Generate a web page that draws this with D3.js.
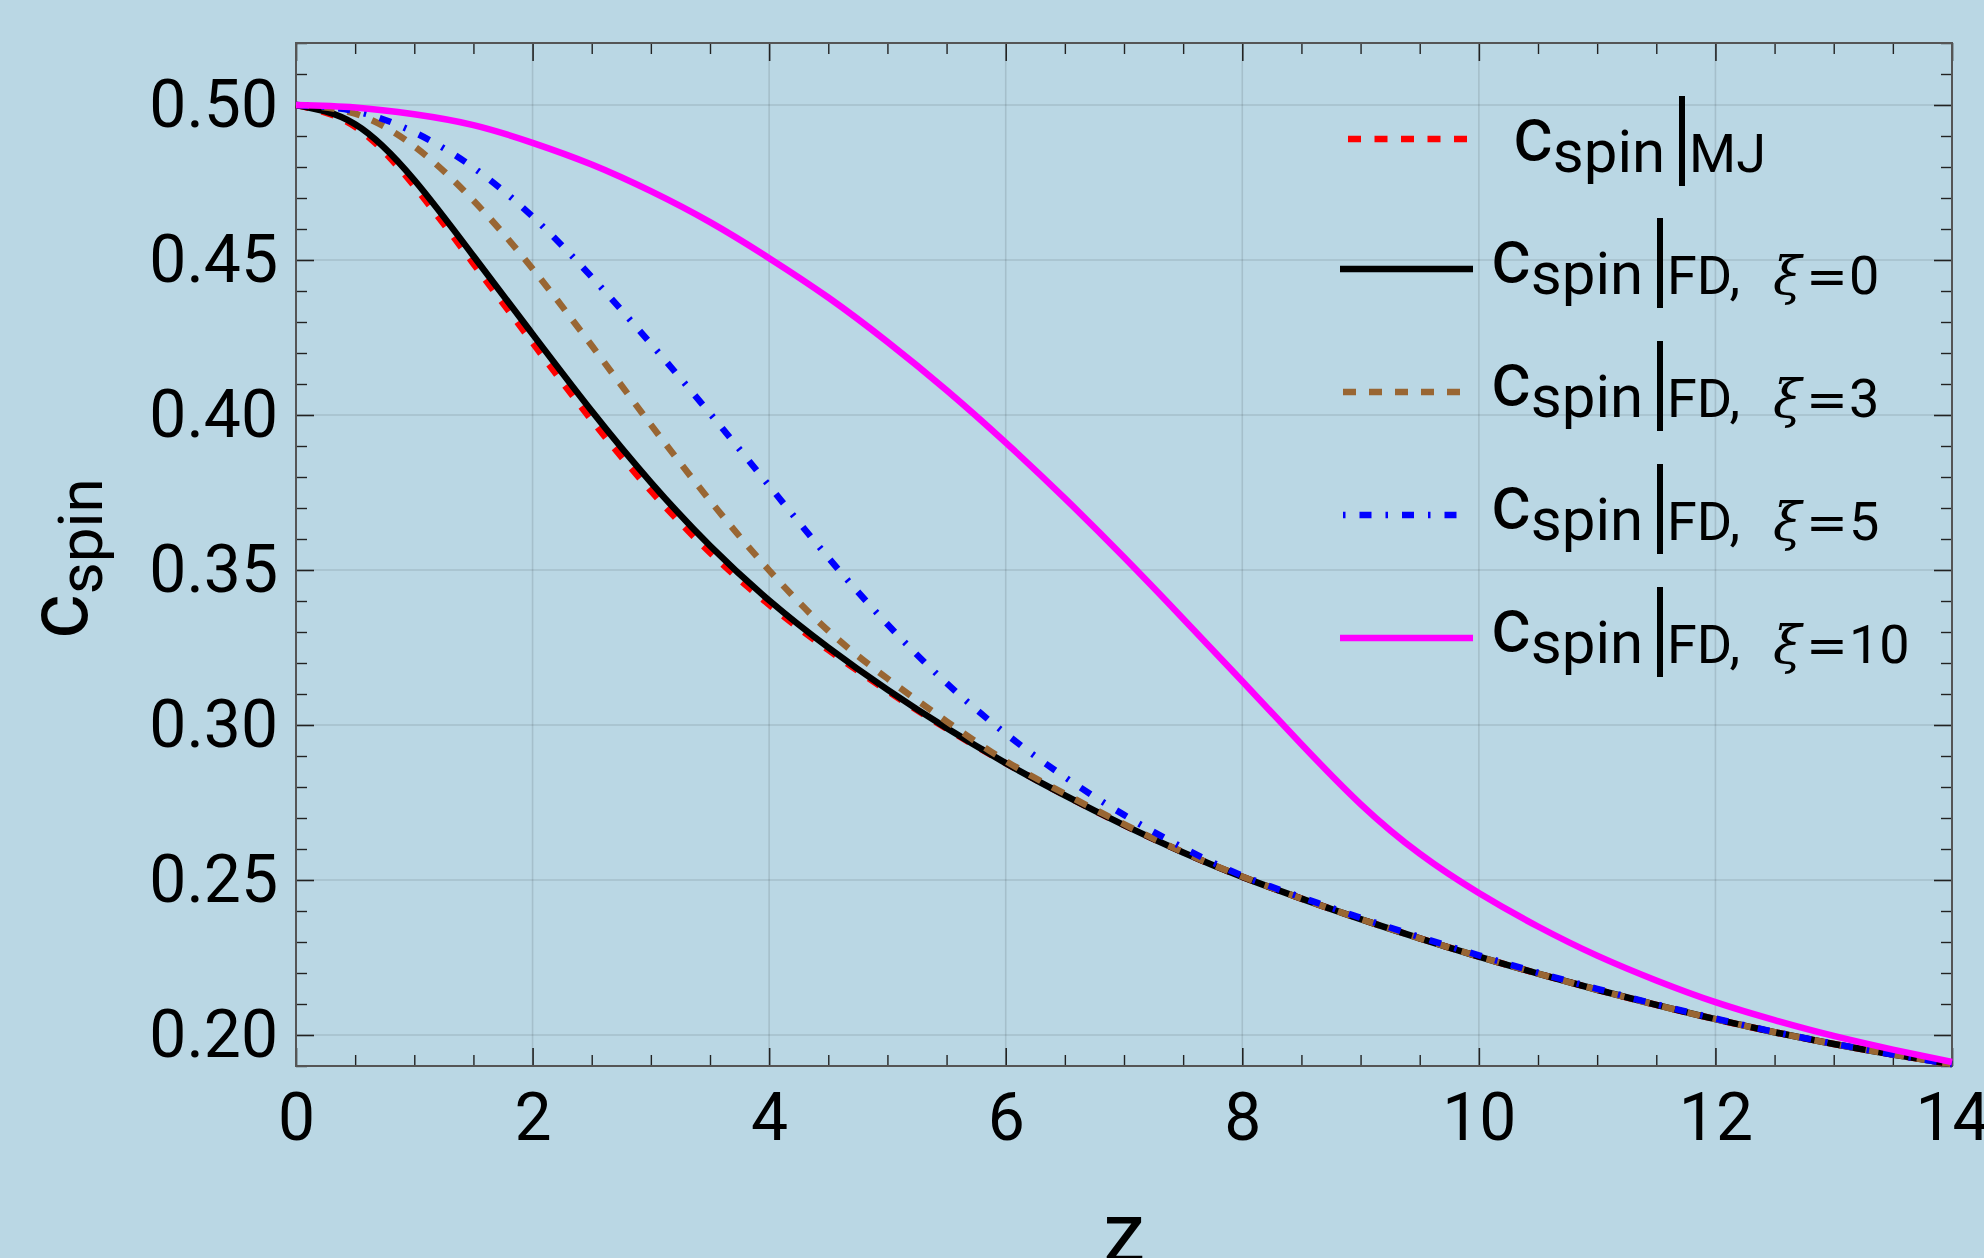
<!DOCTYPE html>
<html>
<head>
<meta charset="utf-8">
<script src="https://cdn.jsdelivr.net/npm/d3@7"></script>
<style>
  body { margin: 0; background: #bad7e4; }
  svg { display: block; }
  text { font-family: Roboto, "Liberation Sans", sans-serif; fill: #000; }
  .axis .domain { display: none; }
  .major line { stroke: #222; stroke-width: 1.6; }
  .minor line { stroke: #222; stroke-width: 1.4; }
  .grid line { stroke: #000; stroke-opacity: 0.11; stroke-width: 1.6; }
</style>
</head>
<body>
<div id="chart"></div>
<script>
// values, one every 0.5 in z
var zValues = [0, 0.5, 1, 1.5, 2, 2.5, 3, 3.5, 4, 4.5, 5, 5.5, 6, 6.5, 7,
  7.5, 8, 8.5, 9, 9.5, 10, 10.5, 11, 11.5, 12, 12.5, 13, 13.5, 14];

var cMJ = [0.5, 0.4930, 0.4738, 0.4488, 0.4233, 0.3983, 0.3755, 0.3556, 0.3388, 0.3242,
  0.3110, 0.2988, 0.2877, 0.2773, 0.2677, 0.2589, 0.2510, 0.2440, 0.2374, 0.2312,
  0.2253, 0.2198, 0.2146, 0.2097, 0.2051, 0.2009, 0.1971, 0.1937, 0.1906];

var cFD0 = [0.5, 0.4938, 0.4758, 0.4513, 0.4261, 0.4013, 0.3783, 0.3578, 0.3402, 0.3250,
  0.3114, 0.2990, 0.2877, 0.2773, 0.2677, 0.2589, 0.2510, 0.2440, 0.2374, 0.2312,
  0.2253, 0.2198, 0.2146, 0.2097, 0.2051, 0.2009, 0.1971, 0.1937, 0.1906];

var cFD3 = [0.5, 0.4972, 0.4867, 0.4692, 0.4472, 0.4224, 0.3969, 0.3724, 0.3499, 0.3304,
  0.3150, 0.3012, 0.2884, 0.2778, 0.2680, 0.2590, 0.2511, 0.2440, 0.2374, 0.2312,
  0.2253, 0.2198, 0.2146, 0.2097, 0.2051, 0.2009, 0.1971, 0.1937, 0.1906];

var cFD5 = [0.5, 0.4980, 0.4912, 0.4798, 0.4640, 0.4445, 0.4230, 0.4005, 0.3772, 0.3540,
  0.3325, 0.3135, 0.2972, 0.2832, 0.2710, 0.2604, 0.2514, 0.2444, 0.2378, 0.2316,
  0.2257, 0.2201, 0.2149, 0.2099, 0.2053, 0.2010, 0.1972, 0.1937, 0.1906];

var cFD10 = [0.5, 0.4992, 0.4970, 0.4935, 0.4878, 0.4808, 0.4722, 0.4622, 0.4506, 0.4379,
  0.4236, 0.4080, 0.3911, 0.3731, 0.3541, 0.3343, 0.3141, 0.2938, 0.2745, 0.2585,
  0.2458, 0.2350, 0.2256, 0.2176, 0.2106, 0.2048, 0.1997, 0.1953, 0.1913];

var xTicks = [0, 2, 4, 6, 8, 10, 12, 14];
var yTicks = [0.20, 0.25, 0.30, 0.35, 0.40, 0.45, 0.50];
var xDomain = [0, 14];
var yDomain = [0.19, 0.52];

var legendSub = ["MJ", "FD,", "FD,", "FD,", "FD,"];
var legendXi = [null, "0", "3", "5", "10"];

var series = [
  {values: cMJ,   color: "#ff0000", dash: "13,13.5"},
  {values: cFD0,  color: "#000000", dash: null},
  {values: cFD3,  color: "#996633", dash: "13,13"},
  {values: cFD5,  color: "#0000ff", dash: "12,14,2.5,14"},
  {values: cFD10, color: "#ff00ff", dash: null}
];

var W = 1984, H = 1258;
var margin = {top: 43, right: 32, bottom: 192, left: 296};
var width = W - margin.left - margin.right,
    height = H - margin.top - margin.bottom;

var svg = d3.select("#chart").append("svg")
    .attr("width", W)
    .attr("height", H);

svg.append("rect").attr("width", W).attr("height", H).attr("fill", "#bad7e4");

var g = svg.append("g").attr("transform", "translate(" + margin.left + "," + margin.top + ")");

var x = d3.scaleLinear().domain(xDomain).range([0, width]);
var y = d3.scaleLinear().domain(yDomain).range([height, 0]);

// grid
var grid = g.append("g").attr("class", "grid");
grid.selectAll(".gx").data(xTicks.slice(1, -1)).enter().append("line")
    .attr("x1", d => x(d)).attr("x2", d => x(d)).attr("y1", 0).attr("y2", height);
grid.selectAll(".gy").data(yTicks).enter().append("line")
    .attr("y1", d => y(d)).attr("y2", d => y(d)).attr("x1", 0).attr("x2", width);

var xMinor = d3.range(0, 14.01, 0.5).filter(d => xTicks.indexOf(d) < 0);
var yMinor = d3.range(19, 52.01, 1).map(d => d / 100).filter(d => !yTicks.some(t => Math.abs(t - d) < 1e-6));

// bottom
g.append("g").attr("class", "axis minor").attr("transform", "translate(0," + height + ")")
    .call(d3.axisBottom(x).tickValues(xMinor).tickSize(-11).tickSizeOuter(0).tickFormat(""));
g.append("g").attr("class", "axis major").attr("transform", "translate(0," + height + ")")
    .call(d3.axisBottom(x).tickValues(xTicks).tickSize(-18).tickSizeOuter(0).tickPadding(27).tickFormat(d3.format("d")));
// top
g.append("g").attr("class", "axis minor")
    .call(d3.axisTop(x).tickValues(xMinor).tickSize(-11).tickSizeOuter(0).tickFormat(""));
g.append("g").attr("class", "axis major")
    .call(d3.axisTop(x).tickValues(xTicks).tickSize(-18).tickSizeOuter(0).tickFormat(""));
// left
g.append("g").attr("class", "axis minor")
    .call(d3.axisLeft(y).tickValues(yMinor).tickSize(-11).tickSizeOuter(0).tickFormat(""));
g.append("g").attr("class", "axis major")
    .call(d3.axisLeft(y).tickValues(yTicks).tickSize(-18).tickSizeOuter(0).tickPadding(18).tickFormat(d3.format(".2f")));
// right
g.append("g").attr("class", "axis minor").attr("transform", "translate(" + width + ",0)")
    .call(d3.axisRight(y).tickValues(yMinor).tickSize(-11).tickSizeOuter(0).tickFormat(""));
g.append("g").attr("class", "axis major").attr("transform", "translate(" + width + ",0)")
    .call(d3.axisRight(y).tickValues(yTicks).tickSize(-18).tickSizeOuter(0).tickFormat(""));

g.selectAll(".axis text")
    .attr("font-size", 66)
    .attr("font-family", "Roboto, sans-serif");

// frame
g.append("rect")
    .attr("width", width).attr("height", height)
    .attr("fill", "none").attr("stroke", "#555").attr("stroke-width", 2);

// curves
var line = d3.line()
    .x((d, i) => x(zValues[i]))
    .y(d => y(d))
    .curve(d3.curveNatural);

g.append("g").attr("class", "curves")
  .selectAll("path")
  .data(series)
  .enter().append("path")
    .attr("d", d => line(d.values))
    .attr("fill", "none")
    .attr("stroke", d => d.color)
    .attr("stroke-width", 6.5)
    .attr("stroke-dasharray", d => d.dash);

// axis labels
svg.append("text")
    .attr("x", margin.left + width / 2)
    .attr("y", 1262)
    .attr("text-anchor", "middle")
    .attr("font-size", 85)
    .text("z");

var ylab = svg.append("text")
    .attr("transform", "translate(87," + (margin.top + height / 2 + 4) + ") rotate(-90)")
    .attr("text-anchor", "middle");
ylab.append("tspan").attr("font-size", 85).text("c");
ylab.append("tspan").attr("font-size", 62).attr("dy", 15).text("spin");

// legend
var legendRows = [
  {lineY: 139, base: 160, textX: 1513, barX: 1682, x1: 1348, x2: 1467},
  {lineY: 269, base: 282, textX: 1491, barX: 1660, x1: 1340, x2: 1473},
  {lineY: 392, base: 405, textX: 1491, barX: 1660, x1: 1343, x2: 1462},
  {lineY: 515, base: 528, textX: 1491, barX: 1660, x1: 1343, x2: 1462},
  {lineY: 638, base: 651, textX: 1491, barX: 1660, x1: 1340, x2: 1473}
];

var legend = svg.append("g").attr("class", "legend");
series.forEach(function(s, i) {
  var r = legendRows[i];
  var dash = s.dash;
  if (i === 3) dash = "2.5,14,12,14";
  legend.append("line")
      .attr("x1", r.x1).attr("x2", r.x2)
      .attr("y1", r.lineY).attr("y2", r.lineY)
      .attr("stroke", s.color).attr("stroke-width", 6.5)
      .attr("stroke-dasharray", dash);

  var t = legend.append("text").attr("x", r.textX).attr("y", r.base);
  t.append("tspan").attr("font-size", 76).text("c");
  t.append("tspan").attr("font-size", 60).attr("dy", 12).text("spin");

  legend.append("line")
      .attr("x1", r.barX).attr("x2", r.barX)
      .attr("y1", r.base - 64).attr("y2", r.base + 26)
      .attr("stroke", "#000").attr("stroke-width", 6);

  var sub = legend.append("text").attr("x", r.barX + 7).attr("y", r.base + 12)
      .attr("font-size", 54);
  sub.append("tspan").text(legendSub[i]);
  if (legendXi[i] !== null) {
    sub.append("tspan").attr("x", 1773)
        .attr("font-family", "'DejaVu Serif', serif").attr("font-style", "italic")
        .attr("font-size", 52).text("\u03be");
    sub.append("tspan").attr("x", 1806)
        .attr("font-family", "'DejaVu Sans', sans-serif").attr("font-size", 50).text("=");
    sub.append("tspan").attr("x", 1849).text(legendXi[i]);
  }
});
</script>
</body>
</html>
